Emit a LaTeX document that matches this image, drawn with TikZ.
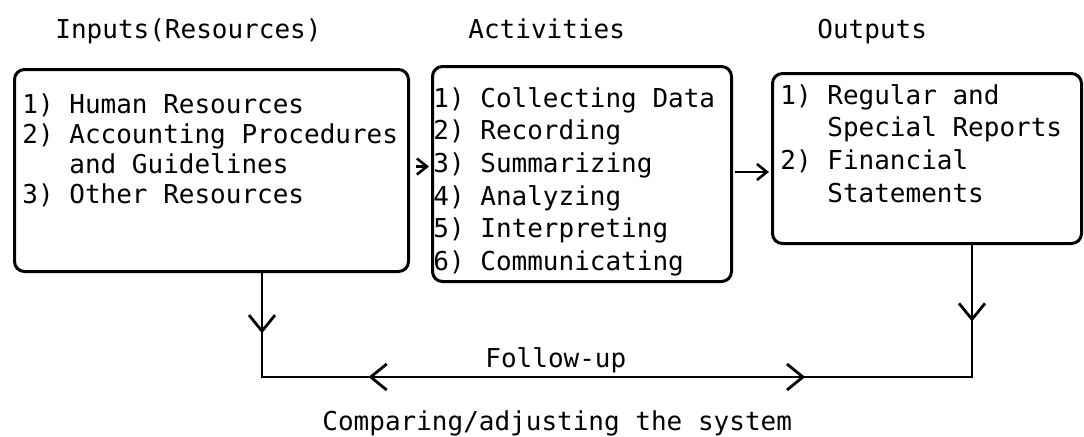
\documentclass[tikz,border=0pt]{standalone}
\usepackage{fontspec}
\setmonofont{DejaVu Sans Mono}
\usepackage{tikz}
\usetikzlibrary{positioning}
\usetikzlibrary{calc}
\usetikzlibrary{arrows.meta}
\usetikzlibrary{decorations.markings}

\tikzset{
    sysbox/.style={draw, line width=1.5pt, rounded corners=5pt, anchor=north west, inner sep=0pt},
    itemlist/.style={anchor=north west, align=left, inner sep=0pt},
    head/.style={anchor=base west, inner sep=0pt},
    feed/.style={line width=1.3pt, shorten >=1pt, -{Straight Barb[length=5pt,width=8pt]}},
    loopline/.style={line width=1.4pt, line cap=rect},
    tipfwd/.style={postaction={decorate, decoration={markings, mark=at position #1 with {\arrow{Straight Barb[length=8pt,width=13pt]}}}}},
    tipback/.style={postaction={decorate, decoration={markings, mark=at position #1 with {\arrowreversed{Straight Barb[length=8pt,width=13pt]}}}}}
}

\begin{document}
\begin{tikzpicture}[x=0.5pt, y=-0.5pt, every node/.style={font=\ttfamily\fontsize{13}{15}\selectfont}]
    \useasboundingbox (0,0) rectangle (1084,436);

    % Titles
    \node[head] (inTitle) at (55,38) {Inputs(Resources)};
    \node[head] (actTitle) at (468,38) {Activities};
    \node[head] (outTitle) at (817,38) {Outputs};

    % Left box
    \node[sysbox, minimum width=197pt, minimum height=101pt] (inBox) at (13,68) {};
    \node[itemlist] (inList) at (22,93) {%
        1) Human Resources\\
        2) Accounting Procedures\\
        \hphantom{2) }and Guidelines\\
        3) Other Resources};

    % Middle box
    \node[sysbox, minimum width=149.5pt, minimum height=107.5pt] (actBox) at (431,65) {};
    \node[itemlist, font=\ttfamily\fontsize{13}{16.3}\selectfont] (actList) at (433,87) {%
        1) Collecting Data\\
        2) Recording\\
        3) Summarizing\\
        4) Analyzing\\
        5) Interpreting\\
        6) Communicating};

    % Right box
    \node[sysbox, minimum width=154.5pt, minimum height=85pt] (outBox) at (771,72) {};
    \node[itemlist, font=\ttfamily\fontsize{13}{16.3}\selectfont] (outList) at (780,84) {%
        1) Regular and\\
        \hphantom{1) }Special Reports\\
        2) Financial\\
        \hphantom{2) }Statements};

    % Arrows between boxes
    \draw[feed] ([xshift=3pt,yshift=2pt]inBox.east) -- ([yshift=2pt]inBox.east -| actBox.west);
    \draw[feed] ([xshift=1pt,yshift=1pt]actBox.east) -- ([yshift=1pt]actBox.east -| outBox.west);

    % Follow-up loop
    \coordinate (loopL) at (262,377);
    \coordinate (loopR) at (972,377);
    \draw[loopline, tipfwd=0.58] (inBox.south -| loopL) -- (loopL);
    \draw[loopline, tipfwd=0.58] (outBox.south -| loopR) -- (loopR);
    \draw[loopline, tipback=0.15, tipfwd=0.765] (loopL) -- (loopR);

    \node[head] (followLbl) at (485,367) {Follow-up};
    \node[head] (compareLbl) at (322,430) {Comparing/adjusting the system};

\end{tikzpicture}
\end{document}
